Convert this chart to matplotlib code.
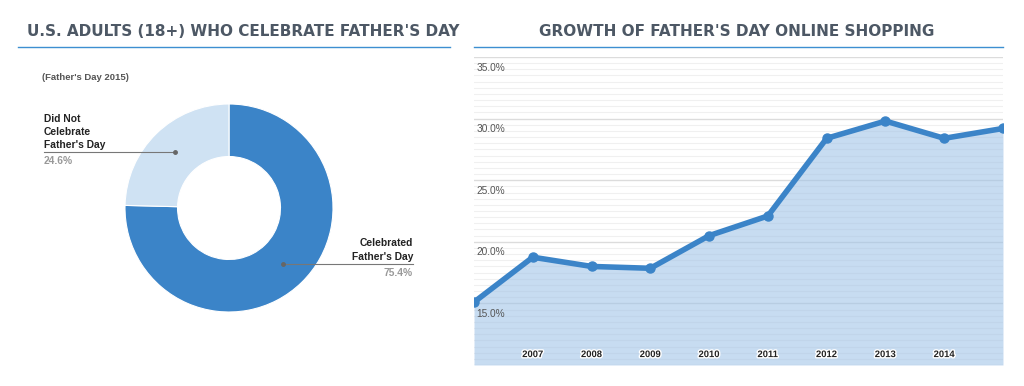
import matplotlib
matplotlib.use("Agg")
import matplotlib.pyplot as plt
import matplotlib.transforms as mtransforms
import matplotlib.patheffects as pe
import numpy as np

# ---------------- data ----------------
donut_labels = ["Celebrated\nFather's Day", "Did Not\nCelebrate\nFather's Day"]
donut_values = [75.4, 24.6]
donut_colors = ["#3b84c8", "#cfe2f3"]

years = [2006, 2007, 2008, 2009, 2010, 2011, 2012, 2013, 2014, 2015]
online_share = [15.1, 18.75, 18.0, 17.85, 20.5, 22.1, 28.4, 29.8, 28.4, 29.2]
tick_years = [2007, 2008, 2009, 2010, 2011, 2012, 2013, 2014]
y_ticks = [15, 20, 25, 30, 35]

left_title = "U.S. ADULTS (18+) WHO CELEBRATE FATHER'S DAY"
right_title = "GROWTH OF FATHER'S DAY ONLINE SHOPPING"
subtitle = "(Father's Day 2015)"

# ---------------- figure ----------------
W, H = 1024, 386
fig = plt.figure(figsize=(W / 100, H / 100), dpi=100)
fig.patch.set_facecolor("white")
# pixel transform (origin top-left)
pix = mtransforms.Affine2D().scale(1 / W, -1 / H).translate(0, 1) + fig.transFigure

title_color = "#4d5865"
title_font = "DejaVu Sans"
line_blue = "#3d8fd1"

def fr(x0, y0, x1, y1):
    return [x0 / W, 1 - y1 / H, (x1 - x0) / W, (y1 - y0) / H]

# titles
fig.text(27, 29.5, left_title, transform=pix, fontsize=11, fontweight="bold",
         family=title_font, color=title_color, va="center_baseline", ha="left")
fig.text(737, 29.5, right_title, transform=pix, fontsize=11, fontweight="bold",
         family=title_font, color=title_color, va="center_baseline", ha="center")
fig.add_artist(plt.Line2D([18, 450], [47, 47], transform=pix, color=line_blue, lw=1.0))
fig.add_artist(plt.Line2D([474, 1003], [47, 47], transform=pix, color=line_blue, lw=1.0))

fig.text(42, 78, subtitle, transform=pix, fontsize=6.8, fontweight="bold",
         family="Liberation Sans", color="#555555", va="center", ha="left")

# ---------------- donut ----------------
cx, cy, R = 229, 208, 104
axd = fig.add_axes(fr(cx - R, cy - R, cx + R, cy + R))
wedges, _ = axd.pie(donut_values, colors=donut_colors, startangle=90, counterclock=False,
                    radius=1.0, wedgeprops=dict(width=0.505, edgecolor="white", linewidth=0.8))
axd.set_xlim(-1, 1)
axd.set_ylim(-1, 1)
axd.set_aspect("equal")
axd.axis("off")
axd.apply_aspect()

def data_to_pix(ax, x, y):
    dx, dy = ax.transData.transform((x, y))
    return dx, H - dy

label_cfg = [
    # (text x in px, ha)
    (413, "right"),
    (44, "left"),
]
for w, val, lab, (tx, ha) in zip(wedges, donut_values, donut_labels, label_cfg):
    ang = np.deg2rad((w.theta1 + w.theta2) / 2)
    rmid = 1.0 - 0.505 / 2
    px, py = data_to_pix(axd, rmid * np.cos(ang), rmid * np.sin(ang))
    fig.add_artist(plt.Line2D([px, tx], [py, py], transform=pix, color="#777777", lw=0.8))
    fig.add_artist(plt.Line2D([px], [py], transform=pix, color="#666666", marker="o",
                              markersize=2.5, lw=0))
    fig.text(tx, py - 2, lab, transform=pix, fontsize=7.4, fontweight="bold",
             family="Liberation Sans", color="#222222", va="bottom", ha=ha, linespacing=1.4)
    fig.text(tx, py + 4, f"{val:.1f}%", transform=pix, fontsize=7.4, fontweight="bold",
             family="Liberation Sans", color="#999999", va="top", ha=ha)

# ---------------- line / area chart ----------------
axl = fig.add_axes(fr(474, 57, 1003, 365))
axl.set_xlim(years[0], years[-1])
axl.set_ylim(10, 35)
for s in axl.spines.values():
    s.set_visible(False)
axl.set_xticks([])
axl.set_yticks([])

# minor and major gridlines
for v in np.arange(10, 35.01, 0.5):
    major = abs(v - round(v / 5) * 5) < 1e-6
    axl.axhline(v, color="#dcdcdc" if major else "#f0f0f0", lw=1.0 if major else 0.8, zorder=0)

axl.fill_between(years, online_share, 10, color="#9fc3e7", alpha=0.58, lw=0, zorder=1)
axl.plot(years, online_share, color="#3b84c8", lw=4.0, marker="o", markersize=6.5,
         solid_capstyle="butt", zorder=3, clip_on=True)

for v in y_ticks:
    axl.annotate(f"{v:.1f}%", xy=(0, v), xycoords=("axes fraction", "data"),
                 xytext=(1.5, -4), textcoords="offset points", ha="left", va="top",
                 fontsize=7.3, family="Liberation Sans", color="#555555", zorder=4)

for yr in tick_years:
    axl.annotate(str(yr), xy=(yr, 10), xycoords="data", xytext=(0, 7.5),
                 textcoords="offset points", ha="center", va="center",
                 fontsize=6.8, fontweight="bold", family="Liberation Sans", color="#222222",
                 zorder=4, path_effects=[pe.withStroke(linewidth=2, foreground="white")])

fig.savefig("out.png", dpi=100, facecolor="white")
